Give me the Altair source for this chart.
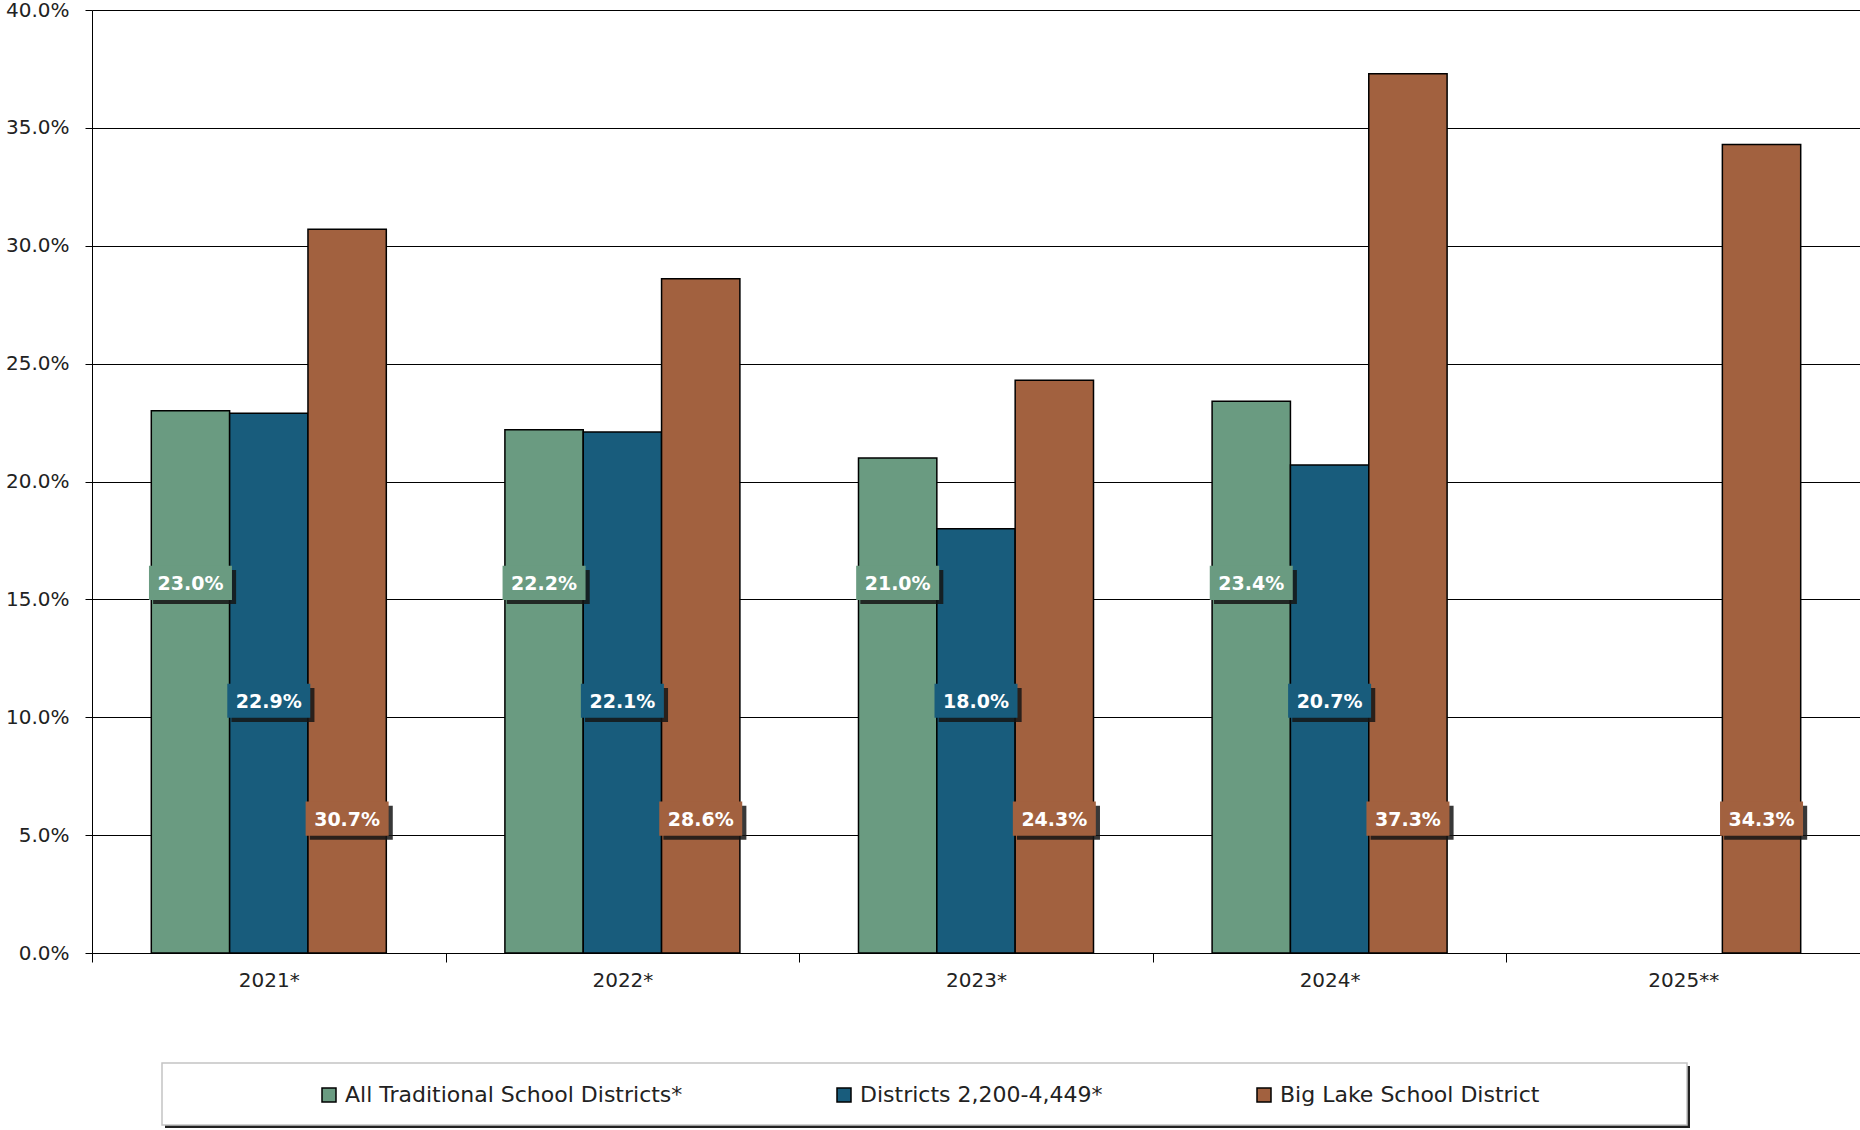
import altair as alt
import pandas as pd

# Share of students by year, per comparison group (percent)
years = ["2021*", "2022*", "2023*", "2024*", "2025**"]
series = [
    "All Traditional School Districts*",
    "Districts 2,200-4,449*",
    "Big Lake School District",
]
all_traditional = [23.0, 22.2, 21.0, 23.4, None]
districts_2200_4449 = [22.9, 22.1, 18.0, 20.7, None]
big_lake = [30.7, 28.6, 24.3, 37.3, 34.3]

colors = ["#6A9B81", "#185C7C", "#A2613F"]

# Height (as a share) where each group's value tag is placed
tag_level = {series[0]: 0.157, series[1]: 0.107, series[2]: 0.057}

rows = []
for s, vals in zip(series, [all_traditional, districts_2200_4449, big_lake]):
    for yr, v in zip(years, vals):
        if v is None:
            continue
        rows.append({"year": yr, "series": s, "value": v / 100.0, "tag": tag_level[s]})
df = pd.DataFrame(rows)

FONT = "DejaVu Sans"

# Year bands fill the whole width so ticks fall on band boundaries;
# the bars are narrowed through the padding of the offset scale.
x_enc = alt.X(
    "year:N",
    sort=years,
    scale=alt.Scale(paddingInner=0, paddingOuter=0),
    axis=alt.Axis(
        title=None,
        labelAngle=0,
        tickBand="extent",
        tickSize=9,
        tickColor="black",
        domainColor="black",
        labelPadding=8,
        labelFont=FONT,
        labelFontSize=20,
        labelColor="#222222",
        grid=False,
    ),
)
xoff_enc = alt.XOffset(
    "series:N", sort=series,
    scale=alt.Scale(domain=series, paddingInner=0, paddingOuter=0.757),
)
y_axis = alt.Axis(
    title=None,
    format=".1%",
    tickCount=8,
    grid=True,
    gridColor="black",
    gridWidth=1,
    domainColor="black",
    tickColor="black",
    tickSize=7,
    labelPadding=16,
    labelFont=FONT,
    labelFontSize=20,
    labelColor="#222222",
)
y_scale = alt.Scale(domain=[0, 0.4], nice=False)

color_enc = alt.Color(
    "series:N",
    scale=alt.Scale(domain=series, range=colors),
    legend=alt.Legend(
        title=None,
        orient="none",
        legendX=226,
        legendY=1074,
        direction="horizontal",
        columns=3,
        columnPadding=150,
        symbolType="square",
        symbolSize=196,
        symbolStrokeColor="black",
        symbolStrokeWidth=1.5,
        labelFont=FONT,
        labelFontSize=22,
        labelColor="#222222",
        labelOffset=5,
        labelLimit=0,
        padding=0,
    ),
)

bars = alt.Chart(df).mark_bar(stroke="black", strokeWidth=1.5).encode(
    x=x_enc,
    xOffset=xoff_enc,
    y=alt.Y("value:Q", scale=y_scale, axis=y_axis),
    color=color_enc,
)

# Value tags: a dark drop shadow, a coloured box, and white text
box_path = "M-1,-0.41L1,-0.41L1,0.41L-1,0.41Z"
shadow_path = "M-0.9,-0.31L1.1,-0.31L1.1,0.51L-0.9,0.51Z"
tag_size = 83 * 83

tag_y = alt.Y("tag:Q", scale=y_scale, axis=y_axis)

tag_shadow = alt.Chart(df).mark_point(
    shape=shadow_path, size=tag_size, filled=True, opacity=0.85,
    color="#151515", strokeWidth=0,
).encode(x=x_enc, xOffset=xoff_enc, y=tag_y)

tag_box = alt.Chart(df).mark_point(
    shape=box_path, size=tag_size, filled=True, opacity=1, strokeWidth=0,
).encode(x=x_enc, xOffset=xoff_enc, y=tag_y, color=color_enc)

tag_text = alt.Chart(df).mark_text(
    font=FONT, fontWeight="bold", fontSize=19, color="white", baseline="middle", dy=1,
).encode(
    x=x_enc, xOffset=xoff_enc, y=tag_y,
    text=alt.Text("value:Q", format=".1%"),
)

# Frame around the legend, with a dark shadow on its right and bottom edges
frame_data = pd.DataFrame({"k": [0]})
frame_shadow = alt.Chart(frame_data).mark_rect(fill="#222222").encode(
    x=alt.value(73), x2=alt.value(1598), y=alt.value(1056), y2=alt.value(1118)
)
frame = alt.Chart(frame_data).mark_rect(fill="white", stroke="#c4c4c4", strokeWidth=1.5).encode(
    x=alt.value(70), x2=alt.value(1595), y=alt.value(1053), y2=alt.value(1115)
)

chart = (
    alt.layer(frame_shadow, frame, bars, tag_shadow, tag_box, tag_text)
    .properties(
        width=1768,
        height=943,
        autosize=alt.AutoSizeParams(type="none"),
        padding={"left": 92, "top": 10, "right": 0, "bottom": 177},
        background="white",
    )
    .configure_view(stroke=None)
    .configure(font=FONT)
)

chart.save("out.html", embed_options={"renderer": "svg", "actions": False})
